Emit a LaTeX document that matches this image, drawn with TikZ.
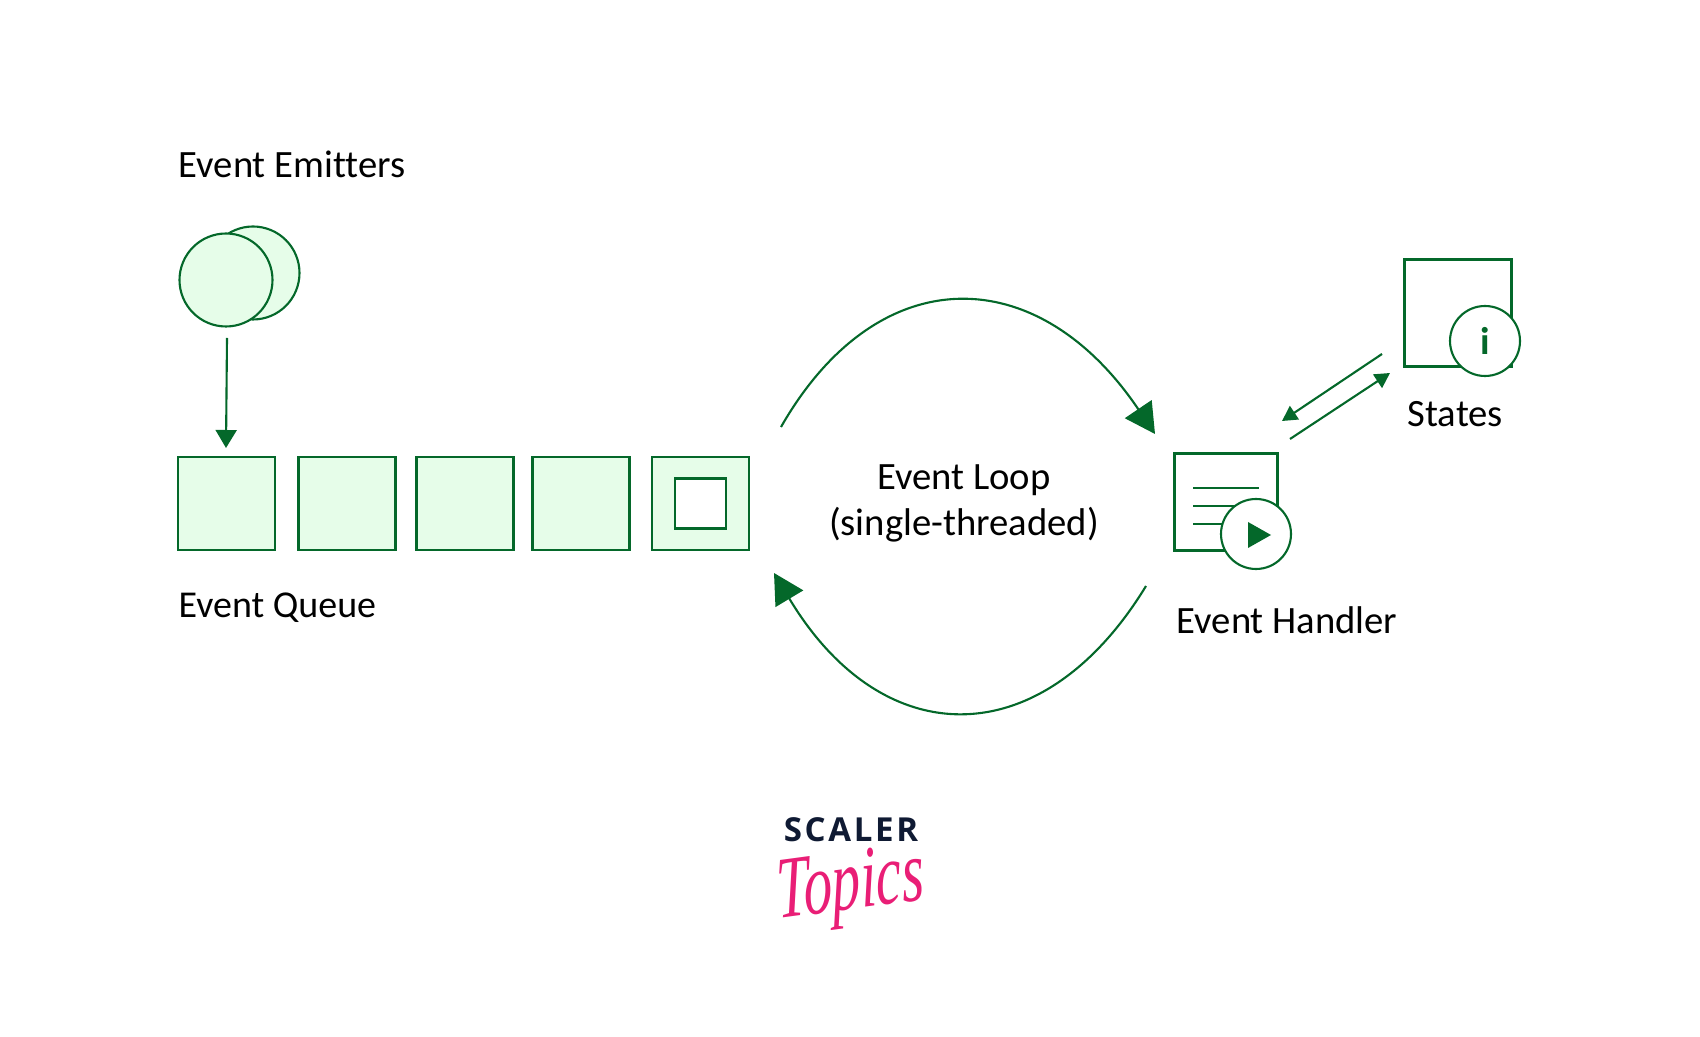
\documentclass[tikz,border=0pt]{standalone}
\usepackage{fontspec}
\setmainfont[Ligatures=NoCommon]{Carlito}
\newfontfamily\logofont[LetterSpace=8]{Open Sans}
\newfontfamily\penfont{Liberation Serif}
\usetikzlibrary{arrows.meta}
\definecolor{loopgreen}{HTML}{04682A}
\definecolor{softgreen}{HTML}{E6FDE9}
\definecolor{logonavy}{HTML}{0F1A33}
\definecolor{logopink}{HTML}{E91E76}
\tikzset{
  caption/.style={anchor=base west,inner sep=0pt,font=\fontsize{11}{13.1}\selectfont},
  queuebox/.style={rectangle,draw=loopgreen,fill=softgreen,line width=0.6pt,inner sep=0pt,
    minimum width=0.97cm,minimum height=0.93cm},
  emitter/.style={circle,draw=loopgreen,fill=softgreen,line width=0.6pt,inner sep=0pt,
    minimum size=0.93cm},
  badge/.style={circle,draw=loopgreen,fill=white,line width=0.6pt,inner sep=0pt,
    minimum size=0.70cm},
  plainbox/.style={rectangle,draw=loopgreen,fill=white,line width=0.6pt,inner sep=0pt},
  flow/.style={draw=loopgreen,line width=0.6pt},
}
\begin{document}
\begin{tikzpicture}
  \useasboundingbox (0,0) rectangle (17,10.36);

  \node[caption] (emitterlabel) at (1.78,8.58) {Event Emitters};
  \node[emitter] (emitterback) at (2.53,7.63) {};
  \node[emitter] (emitterfront) at (2.26,7.56) {};

  \node[queuebox] (q1) at (2.265,5.325) {};
  \node[queuebox] (q2) at (3.47,5.325) {};
  \node[queuebox] (q3) at (4.65,5.325) {};
  \node[queuebox] (q4) at (5.81,5.325) {};
  \node[queuebox] (q5) at (7.005,5.325) {};
  \node[plainbox,minimum width=0.51cm,minimum height=0.50cm] (current) at (q5) {};
  \node[caption,font=\fontsize{10.8}{13.1}\selectfont] (queuelabel) at (1.78,4.18) {Event Queue};

  \coordinate (emitterout) at (2.27,6.98);
  \coordinate (q1in) at (2.26,5.88);
  \draw[flow,-{Triangle[width=0.21cm,length=0.18cm]}] (emitterout) -- (q1in);

  \node[font=\fontsize{11}{13.1}\selectfont,align=center,inner sep=0pt] (loop) at (9.64,5.33)
       {Event Loop\\(single-threaded)};

  \coordinate (looptopa) at (7.81,6.09);
  \coordinate (looptopb) at (11.55,6.02);
  \coordinate (loopbota) at (11.46,4.50);
  \coordinate (loopbotb) at (7.74,4.63);
  \draw[flow,-{Triangle[width=0.32cm,length=0.30cm]}] (looptopa)
       .. controls (8.77,7.77) and (10.37,7.77) .. (looptopb);
  \draw[flow,-{Triangle[width=0.32cm,length=0.30cm]}] (loopbota)
       .. controls (10.43,2.81) and (8.83,2.81) .. (loopbotb);

  \node[plainbox,minimum width=1.03cm,minimum height=0.97cm] (handler) at (12.26,5.34) {};
  \coordinate (l1a) at (11.93,5.48);
  \coordinate (l1b) at (12.59,5.48);
  \coordinate (l2a) at (11.93,5.30);
  \coordinate (l2b) at (12.50,5.30);
  \coordinate (l3a) at (11.93,5.12);
  \coordinate (l3b) at (12.40,5.12);
  \draw[flow] (l1a) -- (l1b);
  \draw[flow] (l2a) -- (l2b);
  \draw[flow] (l3a) -- (l3b);
  \node[badge] (play) at (12.56,5.02) {};
  \fill[loopgreen] (12.48,5.14) -- (12.48,4.88) -- (12.71,5.01) -- cycle;
  \node[caption] (handlerlabel) at (11.76,4.02) {Event Handler};

  \node[plainbox,minimum width=1.07cm,minimum height=1.07cm] (states) at (14.58,7.23) {};
  \node[badge,text=loopgreen,font=\fontsize{11}{13.1}\selectfont\bfseries] (info) at (14.85,6.95) {i};
  \node[caption] (stateslabel) at (14.07,6.09) {States};

  \coordinate (statesouta) at (13.82,6.82);
  \coordinate (handlerin) at (12.82,6.15);
  \coordinate (handlerout) at (12.90,5.97);
  \coordinate (statesin) at (13.90,6.63);
  \draw[flow,-{Triangle[width=0.16cm,length=0.15cm]}] (statesouta) -- (handlerin);
  \draw[flow,-{Triangle[width=0.16cm,length=0.15cm]}] (handlerout) -- (statesin);

  \node[anchor=base,inner sep=0pt,text=logonavy,font=\logofont\fontsize{9.4}{10}\selectfont\bfseries] (logotop) at (8.51,1.95) {SCALER};
  \node[anchor=base,inner sep=0pt,text=logopink,xscale=0.81,yscale=1.25,rotate=5,font=\penfont\fontsize{20}{24}\selectfont\itshape] (logobottom) at (8.52,1.27) {Topics};
\end{tikzpicture}
\end{document}
